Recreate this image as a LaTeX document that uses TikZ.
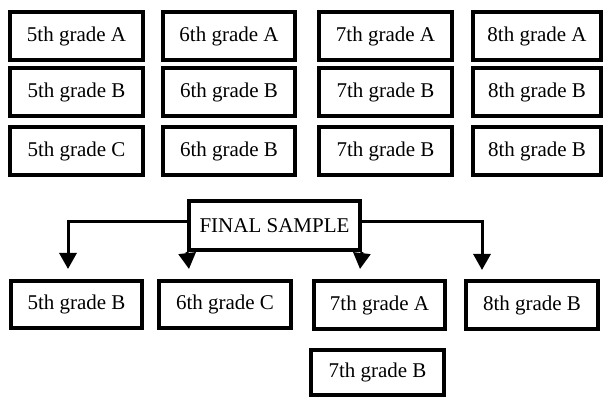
\documentclass[tikz,border=0pt]{standalone}
\usepackage{fontspec}
\setmainfont{Liberation Serif}
\usetikzlibrary{arrows.meta}
\tikzset{
  gbox/.style={draw=black, line width=4pt, fill=white, rectangle, inner sep=0pt,
    font=\fontsize{21}{25}\selectfont},
  conn/.style={line width=3pt, -{Triangle[length=16pt,width=17pt]}},
}
\begin{document}
\begin{tikzpicture}[x=1pt,y=-1pt]
\useasboundingbox (0,0) rectangle (603,398);
% top grid
\node[gbox, minimum width=133pt, minimum height=48pt] (a5) at (76.5,36) {5th grade A};
\node[gbox, minimum width=132pt, minimum height=48pt] (a6) at (229,36) {6th grade A};
\node[gbox, minimum width=133pt, minimum height=48pt] (a7) at (385.5,36) {7th grade A};
\node[gbox, minimum width=128pt, minimum height=48pt] (a8) at (537,36) {8th grade A};
\node[gbox, minimum width=133pt, minimum height=48pt] (b5) at (76.5,92) {5th grade B};
\node[gbox, minimum width=132pt, minimum height=48pt] (b6) at (229,92) {6th grade B};
\node[gbox, minimum width=133pt, minimum height=48pt] (b7) at (385.5,92) {7th grade B};
\node[gbox, minimum width=128pt, minimum height=48pt] (b8) at (537,92) {8th grade B};
\node[gbox, minimum width=133pt, minimum height=48pt] (c5) at (76.5,151) {5th grade C};
\node[gbox, minimum width=132pt, minimum height=48pt] (c6) at (229,151) {6th grade B};
\node[gbox, minimum width=133pt, minimum height=48pt] (c7) at (385.5,151) {7th grade B};
\node[gbox, minimum width=128pt, minimum height=48pt] (c8) at (537,151) {8th grade B};
% final sample
\node[gbox, minimum width=171pt, minimum height=49pt] (fs) at (274.5,225.5) {FINAL SAMPLE};
% bottom row
\node[gbox, minimum width=131pt, minimum height=47pt] (s5) at (76.5,304.5) {5th grade B};
\node[gbox, minimum width=132pt, minimum height=47pt] (s6) at (225,304.5) {6th grade C};
\node[gbox, minimum width=131pt, minimum height=48pt] (s7a) at (379.5,305) {7th grade A};
\node[gbox, minimum width=132pt, minimum height=48pt] (s8) at (532,305) {8th grade B};
\node[gbox, minimum width=133pt, minimum height=45pt] (s7b) at (377.5,372.5) {7th grade B};
% arrow ends
\coordinate (t1) at (68,269);
\coordinate (t2) at (189,269);
\coordinate (t3) at (360,269);
\coordinate (t4) at (482,270);
\draw[conn] ([yshift=3.5pt]fs.west) -| (t1);
\draw[conn] (fs.south west) -- (t2);
\draw[conn] (fs.south east) -- (t3);
\draw[conn] ([yshift=3.5pt]fs.east) -| (t4);
\end{tikzpicture}
\end{document}
